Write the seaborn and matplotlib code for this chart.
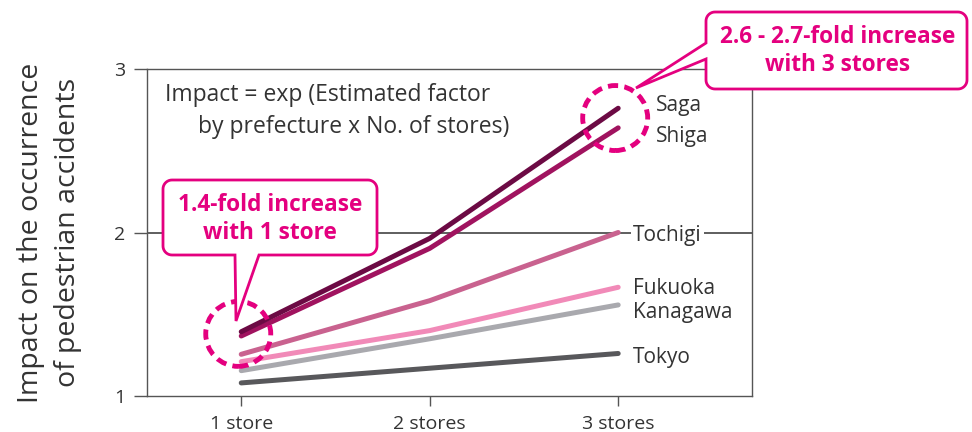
import numpy as np
import pandas as pd
import matplotlib
matplotlib.use("Agg")
import matplotlib.pyplot as plt
from matplotlib.patches import Polygon, Circle
from matplotlib.transforms import ScaledTranslation
import seaborn as sns

# ---- data ----
stores = [1, 2, 3]
store_labels = ["1 store", "2 stores", "3 stores"]
prefectures = ["Tokyo", "Kanagawa", "Fukuoka", "Tochigi", "Shiga", "Saga"]
tokyo = [1.08, 1.17, 1.26]
kanagawa = [1.155, 1.35, 1.557]
fukuoka = [1.21, 1.40, 1.665]
tochigi = [1.255, 1.583, 2.0]
shiga = [1.367, 1.903, 2.64]
saga = [1.393, 1.964, 2.76]
y_ticks = [1, 2, 3]

series = {"Tokyo": tokyo, "Kanagawa": kanagawa, "Fukuoka": fukuoka,
          "Tochigi": tochigi, "Shiga": shiga, "Saga": saga}
palette = {"Saga": "#6c0a44", "Shiga": "#a0135f", "Tochigi": "#c9628f",
           "Fukuoka": "#f18ab8", "Kanagawa": "#a9a9ae", "Tokyo": "#58585b"}

# where the end labels sit (data units) and their horizontal offsets (px)
label_y = {"Saga": 2.79, "Shiga": 2.60, "Tochigi": 2.0, "Fukuoka": 1.673,
           "Kanagawa": 1.528, "Tokyo": 1.252}
label_dx = {"Saga": 38, "Shiga": 38, "Tochigi": 15, "Fukuoka": 15,
            "Kanagawa": 15, "Tokyo": 15}

df = pd.DataFrame([
    {"prefecture": p, "stores": s, "impact": v}
    for p in prefectures for s, v in zip(stores, series[p])
])

sns.set_theme(style="white")
plt.rcParams["font.family"] = ["Open Sans", "DejaVu Sans"]

W, H, DPI = 972, 432, 100
fig = plt.figure(figsize=(W / DPI, H / DPI), dpi=DPI)
ax = fig.add_axes([147 / W, 1 - 396 / H, (752 - 147) / W, (396 - 69) / H])

TXT = "#333333"
MAG = "#e4007f"

# reference line at 2
ax.axhline(2, color="#333333", lw=1.1, zorder=1)

sns.lineplot(data=df, x="stores", y="impact", hue="prefecture",
             hue_order=prefectures, palette=palette, lw=3.6,
             sort=False, legend=False, ax=ax, zorder=3,
             solid_capstyle="round")

ax.set_xlim(0.5, 3.71)
ax.set_ylim(1, 3)
ax.set_xticks(stores)
ax.set_xticklabels(store_labels, fontsize=14, color=TXT)
ax.set_yticks(y_ticks)
ax.set_yticklabels([str(t) for t in y_ticks], fontsize=14, color=TXT)
ax.tick_params(axis="x", direction="out", length=7.5, width=1,
               color="#555555", pad=6, bottom=True)
ax.tick_params(axis="y", direction="out", length=9.5, width=1,
               color="#555555", pad=6, left=True)
for sp in ax.spines.values():
    sp.set_color("#555555")
    sp.set_linewidth(1)
ax.set_xlabel("")
ax.set_ylabel("Impact on the occurrence\nof pedestrian accidents",
              fontsize=20.5, color=TXT, linespacing=1.4)
ax.yaxis.set_label_coords(-0.108, 0.5)

# prefecture labels at the line ends
for p in prefectures:
    kw = {}
    if p == "Tochigi":
        kw["bbox"] = dict(facecolor="white", edgecolor="none", pad=1.5)
    ax.annotate(p, xy=(stores[-1], label_y[p]), xytext=(label_dx[p], 0),
                textcoords="offset pixels", ha="left", va="center_baseline",
                fontsize=15, color=TXT, zorder=5, **kw)

# formula note
ax.text((165 - 147) / 605, (396 - 95) / 327, "Impact = exp (Estimated factor",
        transform=ax.transAxes, fontsize=16.5, color=TXT, va="center")
ax.text((198 - 147) / 605, (396 - 127) / 327, "by prefecture x No. of stores)",
        transform=ax.transAxes, fontsize=16.5, color=TXT, va="center")


# ---- callouts (pixel layout, y measured from the top) ----
def callout(x0, y0, x1, y1, r, side, ta, tb, apex):
    pts = []

    def arc(cx, cy, a0, a1):
        for t in np.linspace(np.radians(a0), np.radians(a1), 10):
            pts.append((cx + r * np.cos(t), cy + r * np.sin(t)))

    arc(x1 - r, y0 + r, -90, 0)
    arc(x1 - r, y1 - r, 0, 90)
    if side == "bottom":
        pts += [(tb, y1), apex, (ta, y1)]
    arc(x0 + r, y1 - r, 90, 180)
    if side == "left":
        pts += [(x0, tb), apex, (x0, ta)]
    arc(x0 + r, y0 + r, 180, 270)
    pts = [(x / DPI, (H - y) / DPI) for x, y in pts]
    poly = Polygon(pts, closed=True, facecolor="white", edgecolor=MAG,
                   lw=2.0, transform=fig.dpi_scale_trans, zorder=10,
                   joinstyle="miter")
    fig.add_artist(poly)


callout(163, 180, 377, 255, 9, "bottom", 235, 259, (236, 321))
callout(706, 12, 967, 89, 9, "left", 43, 59, (636, 88))


def ftext(x, y, s):
    fig.text(x / W, 1 - y / H, s, ha="center", va="center", fontsize=16.3,
             fontweight="bold", color=MAG, zorder=11)


ftext(270, 205, "1.4-fold increase")
ftext(270, 233, "with 1 store")
ftext(838, 37, "2.6 - 2.7-fold increase")
ftext(838, 65, "with 3 stores")

# dashed rings around the highlighted points
for (xs, yv, dx, dy) in [(stores[0], (saga[0] + shiga[0]) / 2, -3, 0),
                         (stores[2], (saga[2] + shiga[2]) / 2, -3, 0)]:
    tr = fig.dpi_scale_trans + ScaledTranslation(xs, yv, ax.transData)
    c = Circle((dx / DPI, dy / DPI), 32.5 / DPI, transform=tr, fill=False,
               edgecolor=MAG, lw=3.5, linestyle=(0, (2.1, 1.3)), zorder=6,
               clip_on=False)
    fig.add_artist(c)

fig.savefig("out.png", dpi=DPI)
